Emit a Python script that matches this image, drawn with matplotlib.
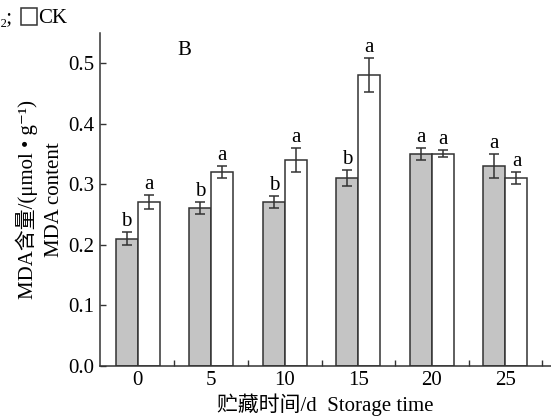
import numpy as np
import matplotlib
matplotlib.use('Agg')
import matplotlib.pyplot as plt
from matplotlib.patches import Rectangle

plt.rcParams['font.family'] = ['Liberation Serif', 'Noto Sans CJK SC', 'DejaVu Sans']

days = ['0', '5', '10', '15', '20', '25']
treat = [0.21, 0.26, 0.27, 0.31, 0.35, 0.33]
treat_err = [0.01, 0.01, 0.01, 0.013, 0.01, 0.02]
ck = [0.27, 0.32, 0.34, 0.48, 0.35, 0.31]
ck_err = [0.012, 0.01, 0.02, 0.028, 0.006, 0.01]
treat_sig = ['b', 'b', 'b', 'b', 'a', 'a']
ck_sig = ['a', 'a', 'a', 'a', 'a', 'a']

edge = '#333333'
fs = 15
fig = plt.figure(figsize=(5.51, 4.17), dpi=100)
ax = fig.add_axes([100 / 551, 1 - 365.7 / 417, 451 / 551, (365.7 - 32.7) / 417])

ind = np.arange(len(days))
w = 0.3
ekw = dict(ecolor=edge, elinewidth=1.1, capsize=3.3, capthick=1.1)
ax.bar(ind - w / 2, treat, w, yerr=treat_err, color='#c4c4c4', edgecolor=edge,
       linewidth=1.1, error_kw=ekw)
ax.bar(ind + w / 2, ck, w, yerr=ck_err, color='white', edgecolor=edge,
       linewidth=1.1, error_kw=ekw)

for i in ind:
    ax.text(i - w / 2, treat[i] + treat_err[i] + 0.002, treat_sig[i],
            ha='center', va='bottom', fontsize=fs)
    ax.text(i + w / 2, ck[i] + ck_err[i] + 0.002, ck_sig[i],
            ha='center', va='bottom', fontsize=fs)

ax.set_xlim(-0.513, 5.62)
ax.set_ylim(0, 0.55)
ax.set_xticks(ind)
ax.set_xticklabels(days, fontsize=fs)
ax.set_xticks(ind + 0.5, minor=True)
ax.tick_params(axis='x', which='major', length=0, pad=4)
ax.tick_params(axis='x', which='minor', direction='in', length=4, width=1, color=edge)
yt = np.arange(0, 0.51, 0.1)
ax.set_yticks(yt)
ax.set_yticklabels(['%.1f' % v for v in yt], fontsize=fs)
ax.tick_params(axis='y', direction='in', length=4, width=1, color=edge, pad=4)
for s in ['top', 'right']:
    ax.spines[s].set_visible(False)
for s in ['left', 'bottom']:
    ax.spines[s].set_color(edge)
    ax.spines[s].set_linewidth(1.1)

ax.text(0.64, 0.52, 'B', ha='center', va='center', fontsize=fs)

ax.set_ylabel('MDA含量/(μmol • g⁻¹)\nMDA content', fontsize=fs, linespacing=1.5,
              labelpad=3)
ax.set_xlabel('贮藏时间/d  Storage time', fontsize=fs, labelpad=2)

# legend fragment at top left (cut off in the original)
fig.text(0, 1 - 23 / 417, '₂;', fontsize=fs, va='baseline', ha='left')
fig.patches.append(Rectangle((21 / 551, 1 - 25 / 417), 16 / 551, 17 / 417,
                             transform=fig.transFigure, facecolor='white',
                             edgecolor=edge, linewidth=1.1))
fig.text(38 / 551, 1 - 23 / 417, 'CK', fontsize=fs, va='baseline', ha='left')

fig.savefig('out.png', dpi=100)
